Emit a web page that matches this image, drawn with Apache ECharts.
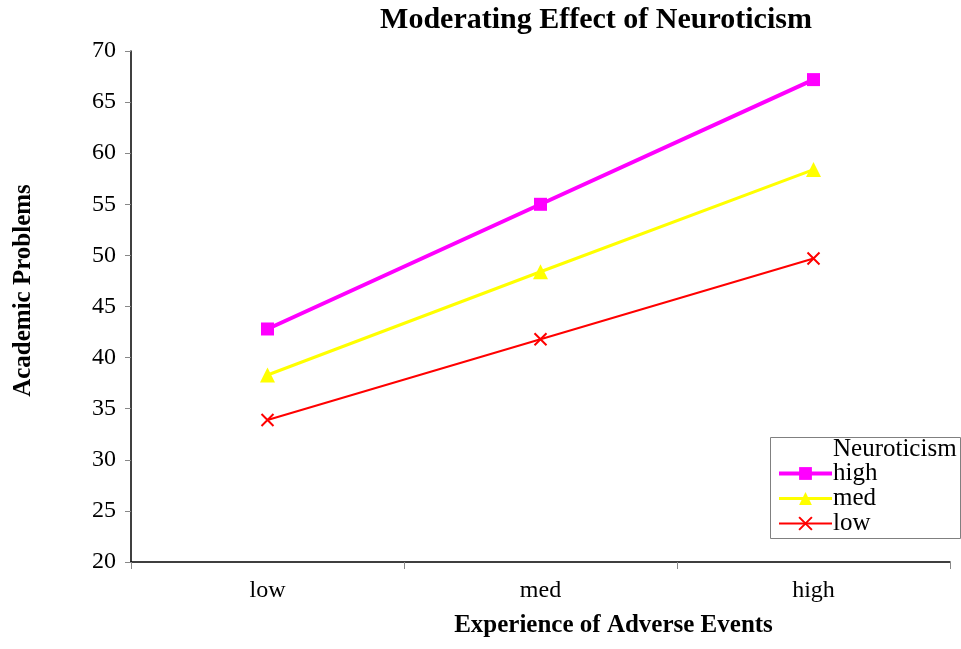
<!DOCTYPE html>
<html>
<head>
<meta charset="utf-8">
<script src="https://cdn.jsdelivr.net/npm/echarts@6/dist/echarts.min.js"></script>
<style>
  html, body { margin: 0; padding: 0; background: #fff; }
  #chart { width: 961px; height: 649px; }
</style>
</head>
<body>
<div id="chart"></div>
<script>
// Adverse events level (x) vs. academic problems, by neuroticism level
const categories = ['low', 'med', 'high'];
const highNeuro = [42.8, 55.0, 67.2];
const medNeuro = [38.3, 48.4, 58.4];
const lowNeuro = [33.9, 41.8, 49.7];
const yTicks = { min: 20, max: 70, interval: 5 };

const serif = '"Liberation Serif", "DejaVu Serif", serif';

const chart = echarts.init(document.getElementById('chart'), null, { renderer: 'canvas' });

chart.setOption({
  backgroundColor: '#ffffff',
  animation: false,
  title: {
    text: 'Moderating Effect of Neuroticism',
    left: 591,
    textAlign: 'center',
    top: 0,
    textStyle: { fontFamily: serif, fontSize: 30, fontWeight: 'bold', color: '#000' }
  },
  grid: { left: 131, right: 11, top: 51, bottom: 87, containLabel: false, outerBoundsMode: 'none' },
  xAxis: {
    type: 'category',
    data: categories,
    boundaryGap: true,
    name: 'Experience of Adverse Events',
    nameLocation: 'middle',
    nameGap: 51,
    nameTextStyle: {
      fontFamily: serif, fontSize: 25, fontWeight: 'bold', color: '#000',
      padding: [0, 0, 0, 146]
    },
    axisLine: { lineStyle: { color: '#000', width: 1.5 } },
    axisTick: { show: true, length: 7, inside: false, lineStyle: { color: '#888' } },
    axisLabel: { fontFamily: serif, fontSize: 24, color: '#000', margin: 17 },
    splitLine: { show: false }
  },
  yAxis: {
    type: 'value',
    min: yTicks.min,
    max: yTicks.max,
    interval: yTicks.interval,
    name: 'Academic Problems',
    nameLocation: 'middle',
    nameGap: 95,
    nameRotate: 90,
    nameTextStyle: {
      fontFamily: serif, fontSize: 25, fontWeight: 'bold', color: '#000',
      padding: [0, 0, 0, 32]
    },
    axisLine: { show: true, lineStyle: { color: '#000', width: 1.5 } },
    axisTick: { show: true, length: 6, lineStyle: { color: '#888' } },
    axisLabel: { fontFamily: serif, fontSize: 24, color: '#000', margin: 15 },
    splitLine: { show: false }
  },
  legend: {
    orient: 'vertical',
    left: 777,
    top: 461,
    itemWidth: 53,
    itemHeight: 16,
    itemGap: 0,
    padding: 0,
    textStyle: { fontFamily: serif, fontSize: 25, lineHeight: 24, height: 24, color: '#000', padding: [0, 0, 0, -4] },
    data: [
      { name: 'high', lineStyle: { width: 4 } },
      { name: 'med', lineStyle: { width: 3 } },
      { name: 'low', lineStyle: { width: 2 } }
    ]
  },
  graphic: [
    {
      type: 'rect',
      left: 768, top: 435,
      shape: { width: 190, height: 101 },
      style: { fill: 'none', stroke: '#808080', lineWidth: 1 },
      z: 0
    },
    {
      type: 'text',
      left: 833, top: 437,
      style: { text: 'Neuroticism', fontFamily: serif, fontSize: 25, fill: '#000' }
    }
  ],
  series: [
    {
      name: 'high', type: 'line', data: highNeuro,
      symbol: 'rect', symbolSize: 13,
      lineStyle: { color: '#FF00FF', width: 4 },
      itemStyle: { color: '#FF00FF' }
    },
    {
      name: 'med', type: 'line', data: medNeuro,
      symbol: 'triangle', symbolSize: 15,
      lineStyle: { color: '#FFFF00', width: 3 },
      itemStyle: { color: '#FFFF00' }
    },
    {
      name: 'low', type: 'line', data: lowNeuro,
      symbol: 'path://M0,0 L10,10 M10,0 L0,10', symbolSize: 12,
      lineStyle: { color: '#FF0000', width: 2 },
      itemStyle: { color: 'none', borderColor: '#FF0000', borderWidth: 2 }
    }
  ]
});
</script>
</body>
</html>
